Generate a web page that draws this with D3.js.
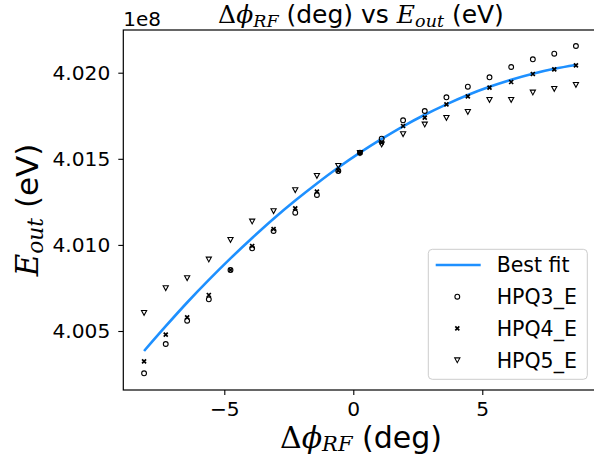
<!DOCTYPE html>
<html>
<head>
<meta charset="utf-8">
<script src="https://cdn.jsdelivr.net/npm/d3@7"></script>
<style>
  html, body { margin: 0; padding: 0; background: #fff; }
  svg { display: block; }
  text { font-family: "DejaVu Sans", sans-serif; fill: #000; }
</style>
</head>
<body>
<div id="chart"></div>
<script>
// RF phase offset (deg) for each measurement
const phaseDeg = [-8.11, -7.27, -6.44, -5.60, -4.76, -3.92, -3.09, -2.25, -1.41, -0.58,
                  0.26, 1.10, 1.93, 2.77, 3.61, 4.44, 5.28, 6.12, 6.96, 7.79, 8.63];

// Output energy (eV) measured by each pickup
const hpq3E = [400254400, 400424600, 400559900, 400684100, 400854300, 400980300, 401080800,
               401187000, 401289800, 401429200, 401535400, 401616700, 401723600, 401777600,
               401857100, 401918700, 401973300, 402033100, 402077800, 402110300, 402155000];
const hpq4E = [400324100, 400478600, 400579600, 400709100, 400854300, 400993700, 401092400,
               401212600, 401309000, 401430900, 401535400, 401593500, 401690500, 401738700,
               401816500, 401863000, 401912900, 401946000, 401992500, 402019700, 402043000];
const hpq5E = [400606300, 400749800, 400807800, 400916400, 401030200, 401137100, 401196900,
               401318800, 401401900, 401460000, 401535400, 401584200, 401644000, 401700400,
               401738700, 401773500, 401843200, 401843200, 401886200, 401907100, 401930300];

// Fitted curve evaluated at the same phase offsets
const bestFitE = [400383900, 400527900, 400665550, 400796740, 400921530, 401039880, 401151830,
                  401257340, 401356450, 401449130, 401535400, 401615250, 401688670, 401755680,
                  401816270, 401870440, 401918190, 401959520, 401994430, 402022930, 402045000];

const xTicks = [-5, 0, 5];
const yTicks = [400500000, 401000000, 401500000, 402000000];
const seriesNames = ["HPQ3_E", "HPQ4_E", "HPQ5_E"];
const fitName = "Best fit";
const offsetExp = 8;

const W = 594, H = 459;
const plot = { left: 123.3, right: 597.6, top: 30, bottom: 390 };

const svg = d3.select("#chart").append("svg")
  .attr("width", W).attr("height", H);

const x = d3.scaleLinear().domain([-8.915, 9.47]).range([plot.left, plot.right]);
const y = d3.scaleLinear().domain([400157400, 402248000]).range([plot.bottom, plot.top]);

const fmtTick = v => (v / Math.pow(10, offsetExp)).toFixed(3);
const fmtX = v => (v < 0 ? "\u2212" + Math.abs(v) : String(v));

// Axes
const xAxis = svg.append("g")
  .attr("transform", `translate(0,${plot.bottom})`)
  .call(d3.axisBottom(x).tickValues(xTicks).tickFormat(fmtX).tickSize(5).tickPadding(7));
const yAxis = svg.append("g")
  .attr("transform", `translate(${plot.left},0)`)
  .call(d3.axisLeft(y).tickValues(yTicks).tickFormat(fmtTick).tickSize(5).tickPadding(8));

[xAxis, yAxis].forEach(g => {
  g.select(".domain").remove();
  g.selectAll(".tick line").attr("stroke", "#000").attr("stroke-width", 1.1);
  g.selectAll(".tick text").attr("font-family", "DejaVu Sans").attr("font-size", 20.2).attr("fill", "#000");
});

// Frame
svg.append("rect")
  .attr("x", plot.left).attr("y", plot.top)
  .attr("width", plot.right - plot.left).attr("height", plot.bottom - plot.top)
  .attr("fill", "none").attr("stroke", "#000").attr("stroke-width", 1.2);

// Offset text
svg.append("text")
  .attr("x", plot.left).attr("y", 26)
  .attr("font-size", 20)
  .text("1e" + offsetExp);

// Fit curve
const fitData = phaseDeg.map((p, i) => [p, bestFitE[i]]);
svg.append("path")
  .datum(fitData)
  .attr("fill", "none")
  .attr("stroke", "#1E90FF")
  .attr("stroke-width", 2.6)
  .attr("d", d3.line().x(d => x(d[0])).y(d => y(d[1])).curve(d3.curveCatmullRom));

// Marker drawing
const markers = {
  circle: g => g.append("circle").attr("r", 2.4).attr("fill", "none")
                .attr("stroke", "#000").attr("stroke-width", 1.1),
  cross: g => g.append("path").attr("d", "M-2,-2L2,2M-2,2L2,-2").attr("fill", "none")
                .attr("stroke", "#000").attr("stroke-width", 1.7),
  tri: g => g.append("path").attr("d", "M-2.6,-2.2L2.6,-2.2L0,2.6Z").attr("fill", "none")
                .attr("stroke", "#000").attr("stroke-width", 1.1)
};
const seriesVals = [hpq3E, hpq4E, hpq5E];
const seriesMarker = ["circle", "cross", "tri"];

seriesVals.forEach((vals, s) => {
  const pts = svg.append("g").selectAll("g")
    .data(phaseDeg.map((p, i) => [p, vals[i]]))
    .join("g")
    .attr("transform", d => `translate(${x(d[0])},${y(d[1])})`);
  pts.each(function () { markers[seriesMarker[s]](d3.select(this)); });
});

// Legend
const leg = svg.append("g");
leg.append("rect")
  .attr("x", 428.3).attr("y", 249.3).attr("width", 159).attr("height", 130)
  .attr("rx", 4).attr("fill", "#fff").attr("fill-opacity", 0.8)
  .attr("stroke", "#cccccc").attr("stroke-width", 1);
const rowY = [265, 296.7, 328.4, 360.1];
leg.append("line")
  .attr("x1", 435.7).attr("x2", 480.7).attr("y1", rowY[0]).attr("y2", rowY[0])
  .attr("stroke", "#1E90FF").attr("stroke-width", 2.6);
leg.append("text").attr("x", 496.7).attr("y", rowY[0] + 7.4).attr("font-size", 20.5).text(fitName);
seriesNames.forEach((name, s) => {
  const g = leg.append("g").attr("transform", `translate(457.3,${rowY[s + 1]})`);
  markers[seriesMarker[s]](g);
  leg.append("text").attr("x", 496.7).attr("y", rowY[s + 1] + 7.4).attr("font-size", 20.5).text(name);
});

// Math-style label helper: parts are [text, style]; subscripts drop by `sub` px
function mathLabel(sel, parts, size, sub) {
  let shift = 0;
  parts.forEach(([t, kind]) => {
    const ts = sel.append("tspan").text(t);
    const target = kind === "sub" ? sub : 0;
    if (target !== shift) { ts.attr("dy", target - shift); shift = target; }
    if (kind === "sym") ts.attr("font-family", "DejaVu Serif").attr("font-size", size);
    if (kind === "it") ts.attr("font-family", "DejaVu Serif").attr("font-style", "italic").attr("font-size", size);
    if (kind === "sub") ts.attr("font-family", "DejaVu Serif").attr("font-style", "italic").attr("font-size", size * 0.7);
    if (kind === "txt") ts.attr("font-family", "DejaVu Sans").attr("font-size", size);
  });
}

// Title
const title = svg.append("text").attr("x", 361).attr("y", 23).attr("text-anchor", "middle");
mathLabel(title, [["\u0394", "sym"], ["\u03D5", "it"], ["RF", "sub"], [" (deg) vs ", "txt"],
                  ["E", "it"], ["out", "sub"], [" (eV)", "txt"]], 25, 3.5);

// X label
const xl = svg.append("text").attr("x", 361).attr("y", 447.5).attr("text-anchor", "middle");
mathLabel(xl, [["\u0394", "sym"], ["\u03D5", "it"], ["RF", "sub"], [" (deg)", "txt"]], 30, 3);

// Y label
const yl = svg.append("text")
  .attr("transform", `translate(38,210) rotate(-90)`)
  .attr("text-anchor", "middle");
mathLabel(yl, [["E", "it"], ["out", "sub"], ["  (eV)", "txt"]], 31, 4.5);
</script>
</body>
</html>
